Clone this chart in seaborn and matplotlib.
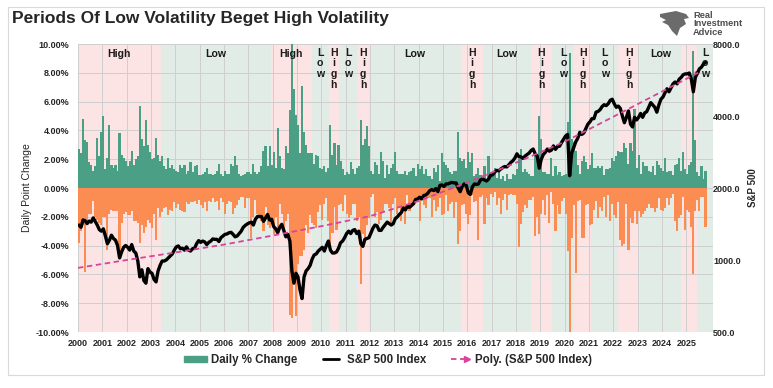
import numpy as np
import matplotlib
matplotlib.use("Agg")
import matplotlib.pyplot as plt
from matplotlib.patches import Rectangle, Patch, Polygon
from matplotlib.lines import Line2D
from matplotlib.legend_handler import HandlerLine2D
import seaborn as sns

# S&P 500 level, one value per month, Jan 2000 - Oct 2025
spx_level = [
    1400, 1370, 1470, 1460, 1420, 1455, 1440, 1500, 1450, 1400, 1340, 1320,  # 2000
    1350, 1260, 1170, 1210, 1270, 1230, 1210, 1150, 1020, 1080, 1130, 1150,  # 2001
    1130, 1100, 1160, 1090, 1070, 990, 850, 910, 820, 800, 920, 890,  # 2002
    880, 830, 810, 900, 950, 990, 990, 1000, 1020, 1040, 1060, 1100,  # 2003
    1135, 1145, 1115, 1120, 1100, 1135, 1100, 1090, 1115, 1120, 1170, 1205,  # 2004
    1185, 1200, 1190, 1160, 1185, 1200, 1225, 1220, 1220, 1195, 1240, 1260,  # 2005
    1280, 1285, 1300, 1305, 1280, 1250, 1260, 1290, 1320, 1370, 1395, 1415,  # 2006
    1430, 1440, 1400, 1480, 1520, 1520, 1520, 1450, 1500, 1550, 1470, 1480,  # 2007
    1380, 1350, 1300, 1370, 1410, 1330, 1250, 1280, 1200, 900, 800, 880,  # 2008
    850, 750, 690, 850, 900, 920, 950, 1010, 1050, 1060, 1090, 1110,  # 2009
    1130, 1090, 1150, 1200, 1100, 1070, 1070, 1080, 1120, 1180, 1200, 1240,  # 2010
    1290, 1320, 1290, 1330, 1340, 1290, 1320, 1170, 1140, 1220, 1230, 1240,  # 2011
    1300, 1360, 1400, 1390, 1330, 1330, 1370, 1405, 1440, 1420, 1400, 1420,  # 2012
    1490, 1515, 1550, 1580, 1650, 1620, 1680, 1660, 1690, 1720, 1790, 1800,  # 2013
    1830, 1800, 1860, 1870, 1900, 1950, 1970, 1950, 1990, 1930, 2050, 2060,  # 2014
    2030, 2080, 2080, 2100, 2110, 2100, 2100, 2000, 1930, 2030, 2080, 2050,  # 2015
    1910, 1880, 2020, 2080, 2070, 2080, 2160, 2180, 2160, 2140, 2180, 2260,  # 2016
    2270, 2330, 2370, 2360, 2400, 2435, 2460, 2450, 2500, 2560, 2600, 2670,  # 2017
    2780, 2700, 2700, 2660, 2720, 2760, 2800, 2870, 2910, 2780, 2720, 2420,  # 2018
    2640, 2760, 2820, 2910, 2850, 2880, 3000, 2900, 2980, 2990, 3100, 3200,  # 2019
    3300, 3350, 2250, 2800, 2950, 3120, 3230, 3420, 3350, 3400, 3550, 3700,  # 2020
    3780, 3900, 3900, 4150, 4180, 4250, 4380, 4460, 4420, 4500, 4650, 4700,  # 2021
    4500, 4350, 4400, 4300, 4000, 3750, 3950, 4200, 3700, 3600, 3950, 3850,  # 2022
    3950, 4100, 3950, 4120, 4170, 4350, 4550, 4450, 4350, 4150, 4450, 4700,  # 2023
    4800, 5000, 5200, 5050, 5250, 5450, 5550, 5450, 5700, 5800, 5950, 6000,  # 2024
    6000, 6050, 5700, 5050, 5800, 6050, 6300, 6400, 6600, 6700,  # 2025
]

# largest daily gain in each month (%)
up_max = [
    2.7, 2.4, 4.8, 3.3, 3.2, 1.8, 1.6, 1.2, 1.5, 3.5, 2.2, 3.9,
    5.0, 1.3, 2.1, 4.4, 1.6, 1.4, 1.6, 1.2, 3.8, 2.3, 2.1, 1.9,
    1.5, 1.9, 2.6, 1.6, 2.0, 2.2, 5.7, 3.4, 2.9, 4.7, 3.0, 2.5,
    2.0, 2.1, 3.5, 2.3, 1.9, 2.2, 1.5, 1.3, 2.1, 1.4, 1.6, 1.3,
    1.2, 1.1, 1.6, 1.4, 1.6, 1.0, 1.2, 1.8, 1.1, 1.5, 1.6, 0.9,
    0.9, 1.0, 1.1, 1.4, 1.0, 1.0, 0.9, 1.0, 1.2, 1.7, 1.0, 0.8,
    1.2, 1.0, 1.0, 1.7, 1.5, 2.2, 1.6, 1.0, 0.8, 0.9, 1.0, 1.1,
    1.1, 1.0, 1.7, 1.1, 1.0, 1.1, 1.5, 2.6, 2.9, 1.5, 2.9, 1.6,
    2.5, 1.4, 4.2, 2.2, 1.4, 1.3, 2.9, 2.4, 5.4, 11.6, 6.9, 5.1,
    4.4, 2.4, 7.1, 3.9, 3.0, 2.4, 2.4, 2.4, 1.7, 2.3, 2.2, 1.4,
    1.3, 1.5, 1.1, 1.4, 4.4, 2.3, 3.1, 1.6, 3.0, 1.9, 1.3, 0.9,
    1.1, 1.0, 1.8, 1.3, 1.0, 1.4, 1.5, 4.7, 3.0, 3.4, 4.3, 2.9,
    1.2, 1.0, 1.8, 1.6, 1.0, 2.5, 1.9, 0.7, 1.6, 1.0, 1.4, 1.7,
    2.5, 1.2, 1.0, 1.0, 1.0, 1.2, 0.9, 1.1, 1.2, 1.4, 0.8, 1.7,
    1.3, 1.5, 1.0, 1.3, 0.8, 0.8, 0.6, 1.4, 1.1, 1.6, 0.5, 2.4,
    1.8, 1.6, 1.4, 1.1, 1.0, 1.2, 1.2, 3.9, 2.1, 1.9, 2.0, 1.4,
    2.5, 1.8, 2.4, 0.8, 1.0, 1.4, 0.9, 0.5, 1.5, 0.6, 2.2, 1.1,
    0.8, 1.4, 0.7, 1.1, 0.6, 0.8, 0.5, 1.0, 0.6, 0.6, 1.0, 0.9,
    1.3, 2.0, 2.7, 1.1, 1.3, 1.1, 1.0, 0.8, 0.8, 2.3, 2.3, 5.0,
    3.4, 1.1, 1.1, 1.0, 1.0, 2.1, 0.8, 1.5, 0.9, 1.1, 0.8, 0.9,
    1.0, 4.6, 9.4, 3.4, 3.2, 2.6, 1.6, 1.0, 1.9, 2.2, 1.8, 1.3,
    1.6, 2.4, 1.4, 1.4, 1.5, 1.4, 1.5, 0.9, 1.3, 1.3, 1.4, 2.1,
    1.9, 2.2, 2.6, 2.5, 2.5, 3.1, 2.8, 1.7, 3.1, 2.6, 5.5, 1.4,
    2.3, 1.0, 1.8, 1.5, 1.5, 1.2, 1.1, 1.5, 0.9, 1.9, 1.6, 1.4,
    1.2, 2.1, 1.1, 1.2, 1.2, 0.9, 1.6, 1.7, 2.1, 1.2, 2.5, 1.3,
    1.0, 1.6, 1.8, 9.5, 3.3, 1.1, 0.8, 1.5, 0.6, 1.2,
]

# largest daily loss in each month (%)
down_max = [
    -3.8, -3.0, -2.6, -5.8, -2.3, -1.8, -1.8, -0.9, -2.0, -2.2, -2.4, -2.6,
    -2.0, -2.0, -4.3, -1.8, -1.5, -1.6, -1.6, -1.6, -4.9, -2.4, -1.8, -1.7,
    -1.9, -1.9, -1.6, -2.3, -2.3, -2.4, -3.8, -2.6, -3.1, -2.7, -2.2, -2.4,
    -2.8, -1.8, -3.6, -1.4, -2.0, -1.7, -1.4, -1.3, -1.9, -1.5, -1.6, -1.0,
    -1.4, -1.1, -1.5, -1.6, -1.7, -1.0, -1.1, -1.0, -1.0, -0.9, -1.1, -0.8,
    -1.2, -1.4, -1.0, -1.6, -0.9, -1.0, -0.7, -1.0, -0.9, -1.5, -0.7, -1.0,
    -1.8, -1.1, -0.9, -1.0, -1.8, -1.4, -1.2, -0.8, -0.6, -0.6, -1.4, -0.7,
    -0.7, -3.5, -2.0, -0.8, -1.8, -2.0, -2.3, -3.0, -1.3, -2.6, -2.8, -2.5,
    -3.2, -2.0, -3.0, -1.1, -1.8, -2.9, -2.3, -1.8, -8.8, -9.0, -6.7, -8.9,
    -5.3, -4.7, -4.7, -4.3, -2.6, -3.1, -1.9, -2.4, -2.6, -2.8, -1.7, -1.2,
    -2.2, -1.1, -0.7, -2.3, -3.9, -3.1, -1.3, -2.9, -1.2, -1.1, -1.6, -0.5,
    -1.8, -2.1, -1.9, -1.1, -1.1, -2.3, -2.0, -6.7, -3.2, -3.7, -2.6, -2.1,
    -0.6, -0.4, -2.0, -1.7, -2.5, -2.2, -1.7, -1.1, -1.1, -1.4, -2.4, -1.1,
    -0.7, -1.8, -1.4, -2.3, -1.5, -2.5, -0.5, -1.6, -1.2, -1.2, -0.8, -0.9,
    -2.3, -0.8, -1.2, -1.4, -0.7, -0.7, -2.0, -0.8, -1.6, -1.3, -0.7, -1.9,
    -1.8, -0.5, -1.6, -1.1, -1.0, -2.1, -1.0, -3.9, -3.0, -1.2, -1.1, -1.8,
    -2.5, -1.9, -0.5, -1.0, -0.9, -3.6, -0.6, -0.5, -2.5, -0.7, -1.2, -0.4,
    -0.6, -0.3, -1.2, -0.7, -1.8, -0.8, -0.4, -1.5, -0.5, -0.4, -0.5, -0.5,
    -1.1, -4.1, -2.5, -1.7, -1.2, -1.4, -0.8, -0.8, -0.6, -3.3, -2.0, -3.2,
    -1.8, -0.8, -1.9, -0.5, -2.4, -0.3, -1.1, -3.0, -1.2, -1.8, -0.9, -0.7,
    -1.8, -4.4, -12.0, -3.5, -1.2, -5.9, -0.9, -0.8, -3.5, -3.5, -1.2, -1.1,
    -2.6, -2.5, -1.5, -0.9, -2.1, -1.3, -1.6, -0.6, -2.0, -0.5, -2.3, -1.1,
    -1.9, -2.1, -1.0, -3.6, -4.0, -3.9, -1.1, -4.3, -2.1, -2.4, -1.6, -2.5,
    -1.6, -2.0, -1.8, -1.6, -1.4, -1.1, -1.4, -1.4, -1.7, -1.4, -0.7, -1.5,
    -1.6, -1.4, -0.7, -1.2, -0.7, -0.4, -2.3, -3.0, -2.1, -1.9, -0.6, -2.9,
    -1.5, -1.7, -2.7, -6.0, -1.6, -0.8, -1.6, -0.6, -0.6, -2.7,
]

# polynomial trend line, read at a few dates
trend_years = [2000, 2002, 2004, 2006, 2008, 2010, 2012, 2014, 2016, 2018,
               2020, 2022, 2024, 2025.6]
trend_vals = [927, 1000, 1075, 1160, 1265, 1385, 1525, 1765, 2110, 2550,
              3120, 3970, 5060, 6150]

# volatility regimes
band_start = [2000.0, 2003.4, 2007.93, 2009.6, 2010.3, 2010.72, 2011.5, 2011.95,
              2015.75, 2016.65, 2018.6, 2019.5, 2020.4, 2021.1, 2022.2, 2023.1,
              2024.8, 2025.45]
band_end = band_start[1:] + [2026.1]
band_kind = ["High", "Low", "High", "Low", "High", "Low", "High", "Low", "High",
             "Low", "High", "Low", "High", "Low", "High", "Low", "High", "Low"]
band_label = ["High", "Low", "High", "Low", "High", "Low", "High", "Low", "High",
              "Low", "High", "Low", "High", "Low", "High", "Low", "", "Low"]

pct_ticks = [-10, -8, -6, -4, -2, 0, 2, 4, 6, 8, 10]
spx_ticks = [500, 1000, 2000, 4000, 8000]
years = list(range(2000, 2026))

PINK = "#fde4e4"
SAGE = "#e2ece7"
GREEN = "#4a9f85"
ORANGE = "#fc8d52"
TREND = "#d9439b"


class ArrowEndHandler(HandlerLine2D):
    # dashed sample with the arrow head only on the right end
    def create_artists(self, *args, **kwargs):
        arts = super().create_artists(*args, **kwargs)
        for a in arts:
            if a.get_marker() not in (None, "None", ""):
                a.set_markevery([len(a.get_xdata()) - 1])
        return arts


sns.set_theme(style="white")
plt.rcParams["font.family"] = ["Liberation Sans", "DejaVu Sans"]

W, H = 773, 388
fig = plt.figure(figsize=(W / 100, H / 100), dpi=100)
ax = fig.add_axes([78 / W, 1 - 332 / H, (713 - 78) / W, 288 / H])

n = len(spx_level)
t = np.array([2000 + i // 12 + (i % 12 + 0.5) / 12 for i in range(n)])

for s, e, k in zip(band_start, band_end, band_kind):
    ax.axvspan(s, e, color=PINK if k == "High" else SAGE, lw=0, zorder=0)

ax.bar(t, up_max, width=1.05 / 12, color=GREEN, lw=0, zorder=2)
ax.bar(t, down_max, width=1.05 / 12, color=ORANGE, lw=0, zorder=2)

ax.set_xlim(2000, 2026.1)
ax.set_ylim(-10, 10)
ax.set_xticks(years)
ax.set_xticklabels([str(y) for y in years], fontsize=6.5, fontweight="bold")
ax.set_yticks(pct_ticks)
ax.set_yticklabels([f"{v:.2f}%" for v in pct_ticks], fontsize=6.5, fontweight="bold")
ax.tick_params(length=0, axis="y", pad=6)
ax.tick_params(length=0, axis="x", pad=5)
ax.grid(True, color="#cfcfcf", lw=0.7)
ax.set_axisbelow(True)
for sp in ax.spines.values():
    sp.set_visible(False)
ax.set_ylabel("Daily Point Change", fontsize=7.5, labelpad=3)

# regime labels
xt = ax.get_xaxis_transform()
for s, e, lab in zip(band_start, band_end, band_label):
    if not lab:
        continue
    c = (s + e) / 2
    if e - s >= 1.5:
        ax.text(c, 1 - 13 / 288, lab, transform=xt, ha="center", va="baseline",
                fontsize=7.6, fontweight="bold", color="#1a1a1a", zorder=5)
    else:
        ax.text(c, 1 - 3.5 / 288, "\n".join(lab), transform=xt, ha="center",
                va="top", fontsize=7.6, fontweight="bold", color="#1a1a1a",
                linespacing=1.12, zorder=5)

ax2 = ax.twinx()
sns.lineplot(x=t, y=spx_level, ax=ax2, color="black", linewidth=2.4,
             estimator=None, zorder=4)
sns.lineplot(x=trend_years, y=trend_vals, ax=ax2, color=TREND, linewidth=1.3,
             linestyle=(0, (3, 2)), estimator=None, zorder=5)
x0 = trend_years[-1] - 0.3
y0 = 2 ** np.interp(x0, trend_years, np.log2(trend_vals))
ax2.annotate("", xy=(trend_years[-1], trend_vals[-1]), xytext=(x0, y0),
             arrowprops=dict(arrowstyle="-|>", color=TREND, lw=1.0,
                             mutation_scale=7, shrinkA=0, shrinkB=0))
ax2.set_yscale("log", base=2)
ax2.set_ylim(500, 8000)
ax2.set_xlim(2000, 2026.1)
ax2.set_yticks(spx_ticks)
ax2.set_yticklabels([f"{v:.1f}" for v in spx_ticks], fontsize=6.5, fontweight="bold")
ax2.yaxis.set_minor_locator(matplotlib.ticker.NullLocator())
ax2.tick_params(length=0, pad=0)
ax2.grid(False)
for sp in ax2.spines.values():
    sp.set_visible(False)
ax2.set_ylabel("S&P 500", fontsize=7, fontweight="bold", labelpad=5)
ax2.set_xlabel("")

fig.text(12 / W, 1 - 19 / H, "Periods Of Low Volatility Beget High Volatility",
         fontsize=12.5, fontweight="bold", ha="left", va="center")

# logo
eagle = [(660, 14), (676, 11), (686, 14), (689, 18), (684, 19), (686, 24),
         (680, 28), (677, 36), (672, 31), (668, 25), (662, 22), (666, 20), (660, 17)]
fig.add_artist(Polygon([(x / W, 1 - y / H) for x, y in eagle], closed=True,
                       transform=fig.transFigure, color="#6b6b6b", lw=0))
fig.text(693 / W, 1 - 24 / H, "Real\nInvestment\nAdvice", fontsize=6.7,
         fontweight="bold", color="#4d4d4d", ha="left", va="center", linespacing=0.9)

trend_handle = Line2D([], [], color=TREND, lw=1.3, ls=(0, (3, 2)), marker=">",
                      markersize=4)
handles = [Patch(color=GREEN), Line2D([], [], color="black", lw=2), trend_handle]
labels = ["Daily % Change", "S&P 500 Index", "Poly. (S&P 500 Index)"]
fig.legend(handles, labels, loc="center", bbox_to_anchor=(0.502, 1 - 360 / H),
           ncol=3, frameon=False, prop={"size": 8.3, "weight": "bold"},
           handlelength=2.0, handletextpad=0.35, columnspacing=1.9,
           numpoints=2, handleheight=0.45,
           handler_map={trend_handle: ArrowEndHandler()})

fig.add_artist(Rectangle((8 / W, 1 - 375 / H), 756 / W, 368 / H,
                         transform=fig.transFigure, fill=False,
                         edgecolor="#d9d9d9", lw=0.8))

fig.savefig("out.png", dpi=100)
